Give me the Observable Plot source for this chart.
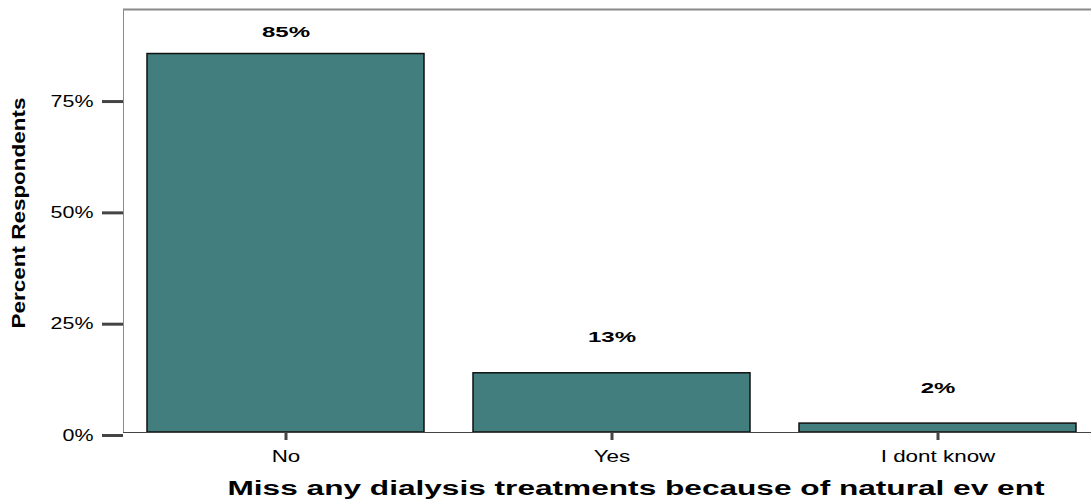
<!DOCTYPE html>
<html>
<head>
<meta charset="utf-8">
<script src="https://cdn.jsdelivr.net/npm/d3@7"></script>
<script src="https://cdn.jsdelivr.net/npm/@observablehq/plot@0.6"></script>
<style>
  html, body { margin: 0; padding: 0; background: #fff; }
  svg { font-family: "Liberation Sans", Arial, sans-serif; }
</style>
</head>
<body>
<div id="chart"></div>
<script>
const categories = ["No", "Yes", "I dont know"];
const percents = [85, 13.3, 2];
const valueLabels = ["85%", "13%", "2%"];
const yTicks = [0, 25, 50, 75];
const xTitle = "Miss any dialysis treatments because of natural ev ent";
const yTitle = "Percent Respondents";

const data = categories.map((c, i) => ({cat: c, value: percents[i], label: valueLabels[i]}));

const plot = Plot.plot({
  width: 1091,
  height: 504,
  marginLeft: 123,
  marginRight: 0,
  marginTop: 9,
  marginBottom: 72,
  style: {fontFamily: '"Liberation Sans", Arial, sans-serif', background: "#fff"},
  x: {domain: categories, range: [122.5, 1101.5], paddingInner: 0.15, paddingOuter: 0.075},
  y: {domain: [0, 95]},
  marks: [
    Plot.ruleY([95], {stroke: "#8a8a8a", strokeWidth: 2}),
    Plot.frame({anchor: "left", stroke: "#8a8a8a"}),
    Plot.barY(data, {x: "cat", y: "value", fill: "#437e7e", stroke: "#111", strokeWidth: 1.5}),
    Plot.ruleY([0], {stroke: "#444"}),
    Plot.axisY({ticks: yTicks, tickFormat: d => d + "%", tickSize: 21, tickPadding: 9, stroke: "#444", strokeWidth: 3, fill: "#000", fontSize: 16.5, dy: 3, label: null}),
    Plot.axisX({tickSize: 8, tickPadding: 10, stroke: "#444", strokeWidth: 3, fill: "#000", fontSize: 16, label: null}),
    Plot.text(data, {x: "cat", y: d => Math.min(d.value + 8, 89.8), text: "label", fontWeight: "bold", fontSize: 15, fill: "#000"})
  ]
});
document.getElementById("chart").appendChild(plot);

const svg = d3.select(plot);
function stretch(sel, k, adjust) {
  sel.each(function() {
    const w = this.getComputedTextLength();
    this.setAttribute("textLength", (w * k).toFixed(1));
    this.setAttribute("lengthAdjust", adjust);
  });
}
stretch(svg.selectAll('g[aria-label="y-axis tick label"] text'), 1.3, "spacingAndGlyphs");
stretch(svg.selectAll('g[aria-label="x-axis tick label"] text'), 1.4, "spacingAndGlyphs");
stretch(svg.selectAll('g[aria-label="text"] text'), 1.6, "spacingAndGlyphs");

const xt = svg.append("text")
  .attr("x", 636).attr("y", 495)
  .attr("text-anchor", "middle")
  .attr("font-weight", "bold").attr("font-size", 19.5)
  .attr("fill", "#000")
  .text(xTitle);
xt.attr("textLength", 817).attr("lengthAdjust", "spacingAndGlyphs");

const yt = svg.append("text")
  .attr("transform", "translate(25,213) rotate(-90)")
  .attr("text-anchor", "middle")
  .attr("font-weight", "bold").attr("font-size", 17.5)
  .attr("fill", "#000")
  .text(yTitle);
yt.attr("textLength", 231).attr("lengthAdjust", "spacingAndGlyphs");
</script>
</body>
</html>
